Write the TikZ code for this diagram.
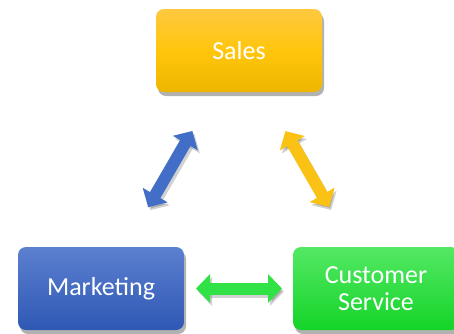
\documentclass[tikz,border=0pt]{standalone}
\usepackage{fontspec}
\setmainfont{Carlito}
\usetikzlibrary{shadows,arrows.meta}
\definecolor{salesTop}{RGB}{255,200,64}
\definecolor{salesMid}{RGB}{255,198,12}
\definecolor{salesBot}{RGB}{238,182,0}
\definecolor{mktTop}{RGB}{92,128,208}
\definecolor{mktBot}{RGB}{46,88,180}
\definecolor{csTop}{RGB}{84,232,100}
\definecolor{csBot}{RGB}{20,212,40}
\definecolor{arrBlue}{RGB}{66,110,200}
\definecolor{arrYellow}{RGB}{250,194,20}
\definecolor{arrGreen}{RGB}{48,226,70}
\tikzset{
  box/.style={rounded corners=8pt, minimum width=166pt, minimum height=83pt,
    text=white, align=center, font=\fontsize{26}{27}\selectfont,
    drop shadow={shadow xshift=2pt, shadow yshift=-4pt, opacity=0.3, fill=black}},
  link/.style={line width=12pt, {Triangle[width=28pt,length=14pt]}-{Triangle[width=28pt,length=14pt]}},
  linkshadow/.style={link, draw=black, opacity=0.18, transform canvas={shift={(2pt,-3pt)}}}
}
\begin{document}
\begin{tikzpicture}[x=1pt,y=-1pt]
\useasboundingbox (0,0) rectangle (454,333);
\fill[white] (0,0) rectangle (454,333);
\node[box, top color=salesTop, bottom color=salesBot, middle color=salesMid] (sales) at (239,50.5) {Sales};
\node[box, top color=mktTop, bottom color=mktBot] (mkt) at (101,288.5) {Marketing};
\node[box, top color=csTop, bottom color=csBot] (cs) at (376,288.5) {Customer\\Service};
% shadows of connectors
\draw[linkshadow, shorten <=93pt, shorten >=94pt] (sales.center) -- (mkt.center);
\draw[linkshadow, shorten <=93pt, shorten >=94pt] (sales.center) -- (cs.center);
\draw[linkshadow, shorten <=95pt, shorten >=94pt] (mkt.center) -- (cs.center);
% connectors
\draw[link, draw=arrBlue, shorten <=93pt, shorten >=94pt] (sales.center) -- (mkt.center);
\draw[link, draw=arrYellow, shorten <=93pt, shorten >=94pt] (sales.center) -- (cs.center);
\draw[link, draw=arrGreen, shorten <=95pt, shorten >=94pt] (mkt.center) -- (cs.center);
\end{tikzpicture}
\end{document}
